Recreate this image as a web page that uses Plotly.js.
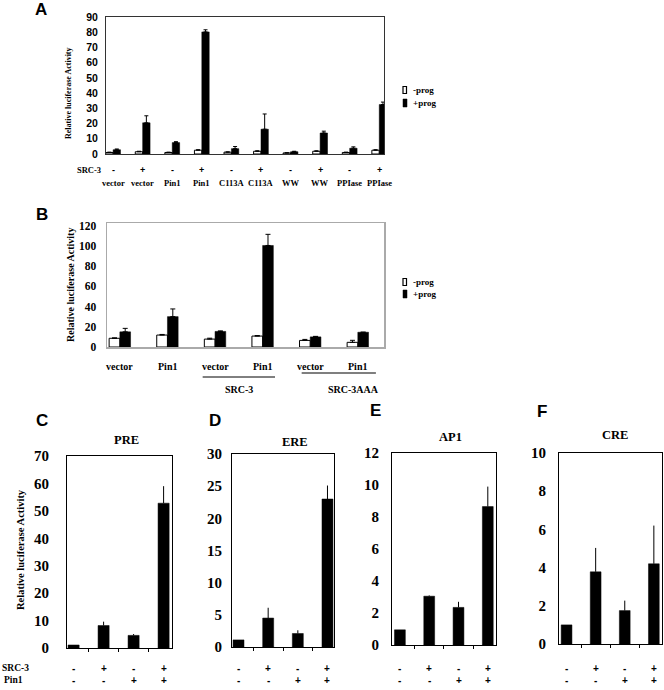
<!DOCTYPE html>
<html>
<head>
<meta charset="utf-8">
<script src="https://cdn.plot.ly/plotly-3.0.1.min.js"></script>
<style>html,body{margin:0;padding:0;background:#fff;}#chart{width:664px;height:690px;}</style>
</head>
<body>
<div id="chart"></div>
<script>
// ---------- DATA ----------
// Panel A
const aConstructs = ['vector','vector','Pin1','Pin1','C113A','C113A','WW','WW','PPIase','PPIase'];
const aSRC3 = ['-','+','-','+','-','+','-','+','-','+'];
const aMinusProg = [1.0, 1.5, 1.0, 2.5, 1.2, 1.8, 0.7, 1.8, 1.0, 2.5];
const aMinusProgErr = [0.2, 0.3, 0.2, 0.3, 0.2, 0.3, 0.1, 0.3, 0.2, 0.3];
const aPlusProg = [2.8, 20.5, 7.5, 80.2, 3.5, 16.3, 1.5, 13.8, 3.8, 32.5];
const aPlusProgErr = [0.5, 4.6, 0.6, 1.4, 1.4, 10.0, 0.3, 1.2, 0.9, 1.6];
const aYTicks = [0,10,20,30,40,50,60,70,80,90];

// Panel B
const bConstructs = ['vector','Pin1','vector','Pin1','vector','Pin1'];
const bGroups = ['SRC-3','SRC-3AAA'];
const bMinusProg = [8.6, 11.8, 7.8, 10.8, 6.5, 4.6];
const bMinusProgErr = [0.4, 0.6, 0.9, 0.5, 1.0, 2.0];
const bPlusProg = [15.0, 30.0, 15.4, 100.3, 10.0, 14.6];
const bPlusProgErr = [3.4, 7.6, 0.5, 11.0, 0.5, 0.0];
const bYTicks = [0,20,40,60,80,100,120];

// Panels C-F
const cfSRC3 = ['-','+','-','+'];
const cfPin1 = ['-','-','+','+'];
const preVals = [1.1, 8.2, 4.6, 52.8];
const preErr  = [0.0, 1.4, 0.5, 6.2];
const ereVals = [1.1, 4.5, 2.1, 23.0];
const ereErr  = [0.0, 1.6, 0.5, 2.1];
const ap1Vals = [0.95, 3.05, 2.35, 8.65];
const ap1Err  = [0.0, 0.05, 0.35, 1.25];
const creVals = [1.0, 3.78, 1.75, 4.2];
const creErr  = [0.0, 1.25, 0.52, 2.0];
const preTicks = [0,10,20,30,40,50,60,70];
const ereTicks = [0,5,10,15,20,25,30];
const ap1Ticks = [0,2,4,6,8,10,12];
const creTicks = [0,2,4,6,8,10];

// ---------- LAYOUT HELPERS ----------
const W = 664, H = 690;
const X = p => p / W;
const Y = p => 1 - p / H;
const SERIF = 'Liberation Serif';
const SANS = 'Liberation Sans';
const zeros = n => new Array(n).fill(0);
const idx = n => Array.from({length:n}, (_, i) => i);

function errBar(arr, w) {
  return {type:'data', symmetric:false, array:arr, arrayminus:zeros(arr.length),
          color:'#000', thickness:1, width:w, visible:true};
}

const traces = [];
// A
traces.push({type:'bar', x:idx(10), y:aMinusProg, xaxis:'x', yaxis:'y', width:0.25, offset:-0.25,
  marker:{color:'#fff', line:{color:'#000', width:1}}, error_y:errBar(aMinusProgErr,2), showlegend:false, name:'-prog'});
traces.push({type:'bar', x:idx(10), y:aPlusProg, xaxis:'x', yaxis:'y', width:0.25, offset:0,
  marker:{color:'#000', line:{color:'#000', width:0.5}}, error_y:errBar(aPlusProgErr,2), showlegend:false, name:'+prog'});
// B
traces.push({type:'bar', x:idx(6), y:bMinusProg, xaxis:'x2', yaxis:'y2', width:0.225, offset:-0.225,
  marker:{color:'#fff', line:{color:'#000', width:1}}, error_y:errBar(bMinusProgErr,2.5), showlegend:false, name:'-prog'});
traces.push({type:'bar', x:idx(6), y:bPlusProg, xaxis:'x2', yaxis:'y2', width:0.225, offset:0,
  marker:{color:'#000', line:{color:'#000', width:0.5}}, error_y:errBar(bPlusProgErr,2.5), showlegend:false, name:'+prog'});
// C-F
const cfSets = [[preVals,preErr,'x3','y3'],[ereVals,ereErr,'x4','y4'],[ap1Vals,ap1Err,'x5','y5'],[creVals,creErr,'x6','y6']];
cfSets.forEach(s => traces.push({type:'bar', x:idx(4), y:s[0], xaxis:s[2], yaxis:s[3], width:0.37,
  marker:{color:'#000', line:{color:'#000', width:0.5}}, error_y:errBar(s[1],0), showlegend:false}));

function xax(l, r, range, anchor, lc, extra) {
  return Object.assign({domain:[X(l), X(r)], range:range, anchor:anchor, showgrid:false, zeroline:false,
    showline:true, mirror:true, linecolor:lc, linewidth:1, ticks:'', showticklabels:false, fixedrange:true}, extra || {});
}
function yax(t, b, range, anchor, lc, tickvals, font, standoff) {
  return {domain:[Y(b), Y(t)], range:range, anchor:anchor, showgrid:false, zeroline:false,
    showline:true, mirror:true, linecolor:lc, linewidth:1, ticks:'', tickvals:tickvals,
    tickfont:font, ticklabelstandoff:standoff, fixedrange:true};
}
const cfX = {ticks:'outside', tickvals:[0.5,1.5,2.5], ticklen:3, tickcolor:'#000', tickwidth:1};
const cfFont = {family:SERIF, size:15, color:'#000', weight:'bold'};

const layout = {
  width:W, height:H, margin:{l:0, r:0, t:0, b:0}, paper_bgcolor:'#fff', plot_bgcolor:'#fff',
  barmode:'overlay', showlegend:false, font:{family:SERIF, color:'#000'},
  xaxis:  xax(106, 384, [-0.24, 9.16], 'y', '#333'),
  yaxis:  yax(17, 154, [0, 90], 'x', '#333', aYTicks, {family:SANS, size:10.5, color:'#000', weight:'bold'}, 5),
  xaxis2: xax(107, 384, [-0.27, 5.55], 'y2', '#aaa', {linewidth:1.5}),
  yaxis2: Object.assign(yax(223, 347, [0, 122.5], 'x2', '#aaa', bYTicks, {family:SERIF, size:11.5, color:'#000', weight:'bold'}, 7), {linewidth:1.5}),
  xaxis3: xax(67, 172, [-0.22, 3.28], 'y3', '#000', cfX),
  yaxis3: yax(456, 648, [0, 70], 'x3', '#000', preTicks, cfFont, 14),
  xaxis4: xax(232, 334, [-0.22, 3.22], 'y4', '#000', cfX),
  yaxis4: yax(454, 647, [0, 30], 'x4', '#000', ereTicks, cfFont, 6),
  xaxis5: xax(392, 496, [-0.27, 3.28], 'y5', '#000', cfX),
  yaxis5: yax(453, 645, [0, 12], 'x5', '#000', ap1Ticks, cfFont, 9),
  xaxis6: xax(559, 662, [-0.26, 3.28], 'y6', '#000', cfX),
  yaxis6: yax(453, 644, [0, 10], 'x6', '#000', creTicks, cfFont, 9),
  annotations: [], shapes: []
};

const ann = layout.annotations;
function txt(text, x, y, size, opts) {
  ann.push(Object.assign({text:text, xref:'paper', yref:'paper', x:X(x), y:Y(y), showarrow:false,
    xanchor:'center', yanchor:'middle', font:{family:SERIF, size:size, color:'#000', weight:'bold'}}, opts || {}));
}
function dtxt(text, xref, xv, y, size, family) {
  ann.push({text:text, xref:xref, yref:'paper', x:xv, y:Y(y), showarrow:false,
    xanchor:'center', yanchor:'middle', font:{family:family || SERIF, size:size, color:'#000', weight:'bold'}});
}
const letterFont = {family:SANS, size:17, color:'#000', weight:'bold'};

// Panel letters
[['A',41,9],['B',42,214],['C',42,421],['D',215,421],['E',375,410],['F',542,411]].forEach(l =>
  txt(l[0], l[1], l[2], 17, {font:letterFont}));

// Y axis titles
const yTitle = 'Relative luciferase Activity';
txt(yTitle, 68, 93, 8, {textangle:-90});
txt(yTitle, 70, 285, 10, {textangle:-90});
txt(yTitle, 20, 550, 10.5, {textangle:-90});

// Panel A labels
txt('SRC-3', 89, 170, 8.5);
aSRC3.forEach((s, i) => dtxt(s, 'x', i, 170, 9, SANS));
aConstructs.forEach((s, i) => dtxt(s, 'x', i, 183, 8.5));

// Panel B labels
bConstructs.forEach((s, i) => dtxt(s, 'x2', i, 366, 10));
ann.push({text:bGroups[0], xref:'x2', yref:'paper', x:2.5, y:Y(390), showarrow:false, xanchor:'center', yanchor:'middle',
  font:{family:SERIF, size:10, color:'#000', weight:'bold'}});
ann.push({text:bGroups[1], xref:'x2', yref:'paper', x:4.9, y:Y(389), showarrow:false, xanchor:'center', yanchor:'middle',
  font:{family:SERIF, size:10, color:'#000', weight:'bold'}});
layout.shapes.push({type:'line', xref:'x2', yref:'paper', x0:1.74, x1:3.26, y0:Y(377), y1:Y(377), line:{color:'#000', width:1}});
layout.shapes.push({type:'line', xref:'x2', yref:'paper', x0:3.82, x1:5.38, y0:Y(373), y1:Y(373), line:{color:'#555', width:1.5}});

// Legends (A and B)
function legend(yMinus, yPlus) {
  layout.shapes.push({type:'rect', xref:'paper', yref:'paper', x0:X(403), x1:X(406.5), y0:Y(yMinus+3.5), y1:Y(yMinus-3.5),
    line:{color:'#000', width:1.2}, fillcolor:'#fff'});
  layout.shapes.push({type:'rect', xref:'paper', yref:'paper', x0:X(403), x1:X(407), y0:Y(yPlus+4), y1:Y(yPlus-4),
    line:{color:'#000', width:0.5}, fillcolor:'#000'});
  txt('-prog', 411, yMinus, 9, {xanchor:'left'});
  txt('+prog', 411, yPlus, 9, {xanchor:'left'});
}
legend(90, 103);
legend(282, 294);

// Panels C-F titles and sign rows
[['PRE',126,440],['ERE',295,442],['AP1',450,437],['CRE',615,435]].forEach(t => txt(t[0], t[1], t[2], 12.5));
['x3','x4','x5','x6'].forEach(xr => {
  cfSRC3.forEach((s, i) => dtxt(s, xr, i, 668, 10, SANS));
  cfPin1.forEach((s, i) => dtxt(s, xr, i, 680, 10, SANS));
});
txt('SRC-3', 15, 668, 9.5);
txt('Pin1', 14, 680, 9.5);

Plotly.newPlot('chart', traces, layout, {staticPlot:true, displayModeBar:false});
</script>
</body>
</html>
